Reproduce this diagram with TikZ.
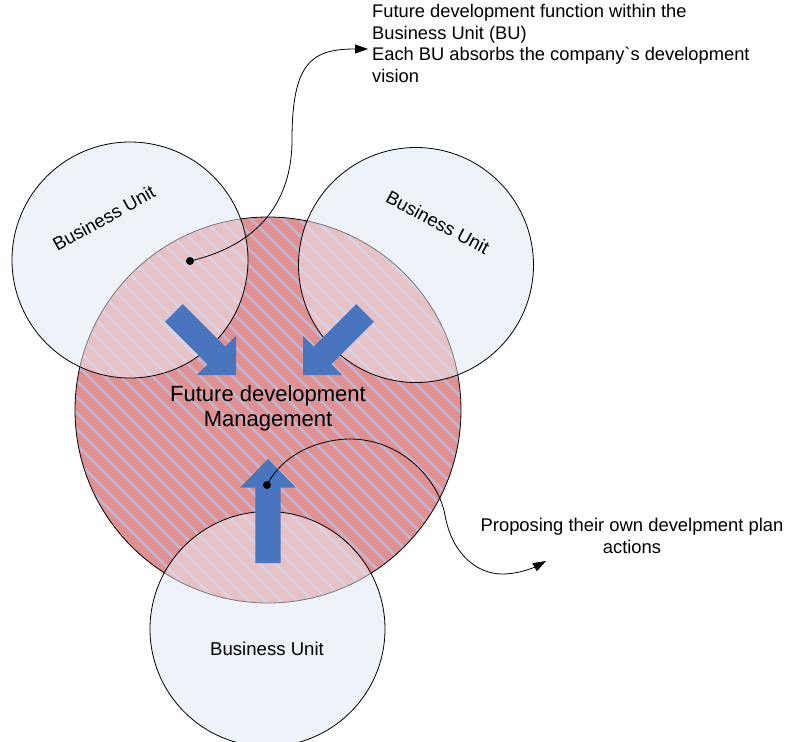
\documentclass[tikz,border=0pt]{standalone}
\usepackage{fontspec}
\setmainfont{Liberation Sans}
\usetikzlibrary{arrows.meta}
\definecolor{bufill}{RGB}{238,242,249}
\definecolor{corebase}{RGB}{224,145,143}
\definecolor{corestripe}{RGB}{195,180,212}
\definecolor{flowblue}{RGB}{72,117,190}
\begin{document}
\begin{tikzpicture}[x=1pt,y=-1pt,
  outline/.style={draw=black, line width=0.8pt},
  blockarrow/.style={fill=flowblue, draw=none},
  dot/.style={circle, fill=black, inner sep=0pt, minimum size=8pt},
  callout/.style={draw=black, line width=0.8pt, -{Triangle[length=13pt,width=9pt]}},
  bulabel/.style={font=\fontsize{18.6}{21}\selectfont, inner sep=0pt, anchor=base},
  note/.style={inner sep=0pt, anchor=base}]
\useasboundingbox (0,0) rectangle (785,742);
\clip (0,0) rectangle (785,742);

% centres of the four circles
\coordinate (core) at (268,410);
\coordinate (buTL) at (130,260);
\coordinate (buTR) at (416,265);
\coordinate (buB)  at (267.5,629);

% business units, opaque base
\fill[bufill] (buTL) circle[radius=118pt];
\fill[bufill] (buTR) circle[radius=117.5pt];
\fill[bufill] (buB)  circle[radius=117.5pt];

% hatched core circle
\begin{scope}
  \clip (core) circle[radius=193pt];
  \fill[corebase] (core) circle[radius=193pt];
  \foreach \c in {-544,-528,...,260}
    \draw[corestripe, line width=2.8pt] (\c+190,190) -- (\c+630,630);
\end{scope}
\draw[outline] (core) circle[radius=193pt];

% translucent business units over the core
\fill[bufill, opacity=0.5] (buTL) circle[radius=118pt];
\fill[bufill, opacity=0.5] (buTR) circle[radius=117.5pt];
\fill[bufill, opacity=0.5] (buB)  circle[radius=117.5pt];
\draw[outline] (buTL) circle[radius=118pt];
\draw[outline] (buTR) circle[radius=117.5pt];
\draw[outline] (buB)  circle[radius=117.5pt];

% block arrows towards the centre
\fill[blockarrow, shift={(236,375)}, rotate=-45]
  (0,0) -- (-27.6,27.6) -- (-27.6,12.4) -- (-87.7,12.4) -- (-87.7,-12.4)
  -- (-27.6,-12.4) -- (-27.6,-27.6) -- cycle;
\fill[blockarrow, shift={(303,375)}, rotate=-135]
  (0,0) -- (-27.6,27.6) -- (-27.6,12.4) -- (-87.7,12.4) -- (-87.7,-12.4)
  -- (-27.6,-12.4) -- (-27.6,-27.6) -- cycle;
\fill[blockarrow, shift={(268,459)}, rotate=90]
  (0,0) -- (-28.5,27.7) -- (-28.5,12.7) -- (-104,12.7) -- (-104,-12.7)
  -- (-28.5,-12.7) -- (-28.5,-27.7) -- cycle;

% labels (multi-line nodes are placed by the baseline of their last line)
\node[bulabel, rotate=29]  (labTL) at (107,224) {Business Unit};
\node[bulabel, rotate=-28] (labTR) at (434.7,228.3) {Business Unit};
\node[bulabel]             (labB)  at (267,655.3) {Business Unit};
\node[note, align=center, font=\fontsize{22}{25}\selectfont] (mgmt) at (268,426.7)
  {Future development\\Management};
\node[note, anchor=base west, align=left, font=\fontsize{18.3}{21.7}\selectfont] (noteTop) at (372,82.4)
  {Future development function within the\\Business Unit (BU)\\Each BU absorbs the company\textasciigrave s development\\vision};
\node[note, align=center, font=\fontsize{18.4}{21.6}\selectfont] (noteRight) at (632,553.3)
  {Proposing their own develpment plan\\actions};

% callouts
\node[dot] (dotTop) at (190,261) {};
\node[dot] (dotBot) at (267,485) {};
\coordinate (tipTop) at (368,49);
\coordinate (tipBot) at (546,561);
\draw[callout] (dotTop.center) .. controls (260,245) and (292,200) .. (292,140)
  .. controls (292,62) and (312,49) .. (tipTop);
\draw[callout] (dotBot.center) .. controls (285,450) and (325,439) .. (350,439)
  .. controls (400,439) and (438,478) .. (445,515)
  .. controls (452,555) and (478,574) .. (502,574)
  .. controls (520,574) and (535,567) .. (tipBot);
\end{tikzpicture}
\end{document}
